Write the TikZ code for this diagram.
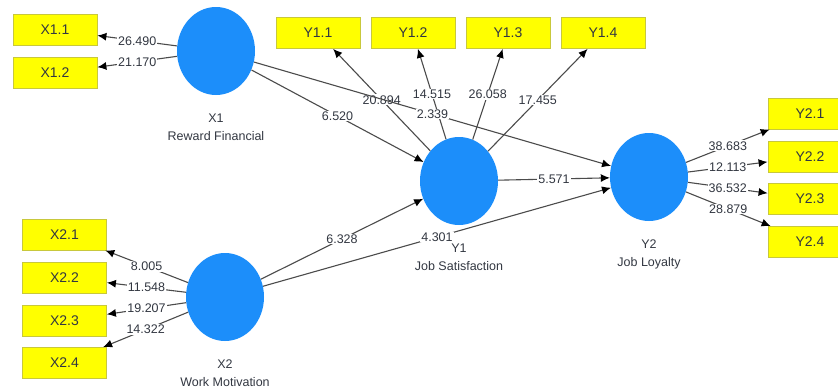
\documentclass[tikz,border=0pt]{standalone}
\usepackage{fontspec}
\setmainfont{Liberation Sans}
\usetikzlibrary{arrows.meta,positioning,shapes.geometric}
\definecolor{plsedge}{RGB}{75,75,75}
\definecolor{plslv}{RGB}{28,142,250}
\definecolor{plsind}{RGB}{255,255,0}
\definecolor{plsindedge}{RGB}{200,200,60}
\definecolor{plsink}{RGB}{50,55,65}
\tikzset{
  indbox/.style={
    draw=plsindedge, fill=plsind, line width=0.8pt,
    minimum width=84pt, minimum height=31pt, inner sep=0pt,
    text=plsink, font=\fontsize{14}{16}\selectfont
  },
  lv/.style={ellipse, fill=plslv, minimum width=78pt, minimum height=88pt, inner sep=0pt},
  lvname/.style={align=center, text=plsink, font=\fontsize{12.5}{18}\selectfont, inner sep=0pt},
  arr/.style={-{Latex[length=9pt,width=8pt,color=black]}, draw=plsedge, line width=1.1pt},
  wt/.style={fill=white, inner sep=1pt, text=plsink, font=\fontsize{12.5}{14}\selectfont}
}
\begin{document}
\begin{tikzpicture}[x=1pt,y=-1pt]
  \useasboundingbox (0,0) rectangle (838,391);
  % latent variables
  \node[lv] (X1) at (216,51) {};
  \node[lv] (X2) at (225,297) {};
  \node[lv] (Y1) at (459,181) {};
  \node[lv] (Y2) at (649,177) {};
  \node[lvname, below=18pt of X1] (X1name) {X1\\Reward Financial};
  \node[lvname, below=18pt of X2] (X2name) {X2\\Work Motivation};
  \node[lvname, below=18pt of Y1] (Y1name) {Y1\\Job Satisfaction};
  \node[lvname, below=18pt of Y2] (Y2name) {Y2\\Job Loyalty};
  % indicators
  \node[indbox] (X11) at (55,30) {X1.1};
  \node[indbox] (X12) at (55,73) {X1.2};
  \node[indbox] (X21) at (64.5,234.5) {X2.1};
  \node[indbox] (X22) at (64.5,277.5) {X2.2};
  \node[indbox] (X23) at (64.5,320.5) {X2.3};
  \node[indbox] (X24) at (64.5,363) {X2.4};
  \node[indbox] (Y11) at (318,33) {Y1.1};
  \node[indbox] (Y12) at (413,33) {Y1.2};
  \node[indbox] (Y13) at (508,33) {Y1.3};
  \node[indbox] (Y14) at (603,33) {Y1.4};
  \node[indbox] (Y21) at (810,113.5) {Y2.1};
  \node[indbox] (Y22) at (810,156.5) {Y2.2};
  \node[indbox] (Y23) at (810,199) {Y2.3};
  \node[indbox] (Y24) at (810,242) {Y2.4};
  % outer loadings
  \draw[arr] (X1) -- node[wt] (wX11) {26.490} (X11);
  \draw[arr] (X1) -- node[wt] (wX12) {21.170} (X12);
  \draw[arr] (X2) -- node[wt] (wX21) {8.005} (X21);
  \draw[arr] (X2) -- node[wt] (wX22) {11.548} (X22);
  \draw[arr] (X2) -- node[wt] (wX23) {19.207} (X23);
  \draw[arr] (X2) -- node[wt] (wX24) {14.322} (X24);
  \draw[arr] (Y1) -- node[wt] (wY11) {20.894} (Y11);
  \draw[arr] (Y1) -- node[wt] (wY12) {14.515} (Y12);
  \draw[arr] (Y1) -- node[wt] (wY13) {26.058} (Y13);
  \draw[arr] (Y1) -- node[wt] (wY14) {17.455} (Y14);
  \draw[arr] (Y2) -- node[wt] (wY21) {38.683} (Y21);
  \draw[arr] (Y2) -- node[wt] (wY22) {12.113} (Y22);
  \draw[arr] (Y2) -- node[wt] (wY23) {36.532} (Y23);
  \draw[arr] (Y2) -- node[wt] (wY24) {28.879} (Y24);
  % inner model
  \draw[arr] (X1) -- node[wt] (pX1Y1) {6.520} (Y1);
  \draw[arr] (X1) -- node[wt] (pX1Y2) {2.339} (Y2);
  \draw[arr] (X2) -- node[wt] (pX2Y1) {6.328} (Y1);
  \draw[arr] (X2) -- node[wt] (pX2Y2) {4.301} (Y2);
  \draw[arr] (Y1) -- node[wt] (pY1Y2) {5.571} (Y2);
\end{tikzpicture}
\end{document}
